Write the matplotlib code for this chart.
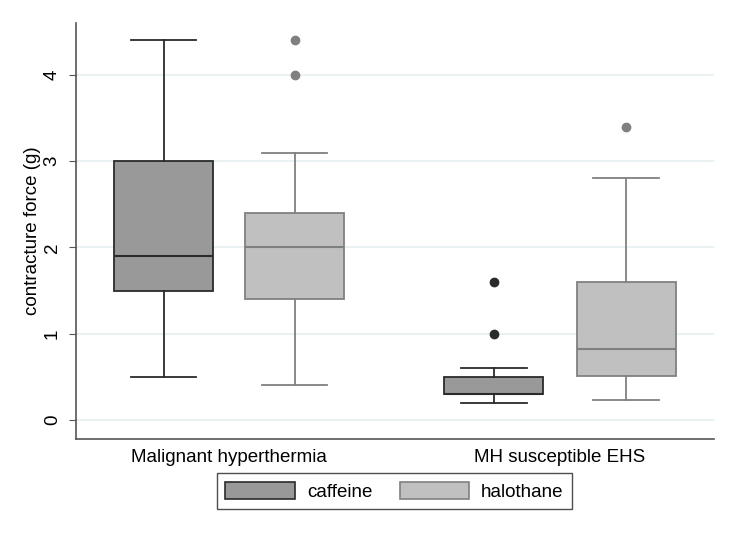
import matplotlib.pyplot as plt
from matplotlib.patches import Patch

plt.rcParams['font.family'] = ['Liberation Sans', 'DejaVu Sans']

groups = ['Malignant hyperthermia', 'MH susceptible EHS']
drugs = ['caffeine', 'halothane']

# box stats: (whislo, q1, med, q3, whishi, outliers)
caffeine = [
    (0.5, 1.5, 1.9, 3.0, 4.4, []),
    (0.2, 0.3, 0.3, 0.5, 0.6, [1.0, 1.6]),
]
halothane = [
    (0.4, 1.4, 2.0, 2.4, 3.1, [4.0, 4.4]),
    (0.23, 0.51, 0.82, 1.6, 2.8, [3.4]),
]

fill = {'caffeine': '#999999', 'halothane': '#c0c0c0'}
edge = {'caffeine': '#2b2b2b', 'halothane': '#808080'}

positions = {'caffeine': [0, 2.52], 'halothane': [1, 3.53]}


def to_stats(rows):
    return [dict(whislo=a, q1=b, med=c, q3=d, whishi=e, fliers=f) for a, b, c, d, e, f in rows]


fig = plt.figure(figsize=(7.36, 5.37), dpi=100)
ax = fig.add_axes([0.1033, 0.1825, 0.8667, 0.7745])

for name, rows in (('caffeine', caffeine), ('halothane', halothane)):
    ec = edge[name]
    ax.bxp(to_stats(rows), positions=positions[name], widths=0.755, capwidths=0.5,
           patch_artist=True, showfliers=True,
           boxprops=dict(facecolor=fill[name], edgecolor=ec, linewidth=1.3),
           medianprops=dict(color=ec, linewidth=1.5),
           whiskerprops=dict(color=ec, linewidth=1.3),
           capprops=dict(color=ec, linewidth=1.3),
           flierprops=dict(marker='o', markerfacecolor=ec, markeredgecolor=ec, markersize=6))

fs = 13.5
ax.set_xlim(-0.668, 4.2)
ax.set_ylim(-0.22, 4.6)
ax.set_yticks([0, 1, 2, 3, 4])
ax.set_yticklabels(['0', '1', '2', '3', '4'], rotation=90, va='center', fontsize=fs)
ax.set_xticks([0.5, 3.025])
ax.set_xticklabels(groups, fontsize=fs)
ax.tick_params(axis='x', length=0, pad=7)
ax.tick_params(axis='y', length=5, color='#555555', pad=6)
ax.set_ylabel('contracture force (g)', fontsize=fs, labelpad=2)
ax.yaxis.grid(True, color='#e6eff1', linewidth=1.2)
ax.set_axisbelow(True)
for s in ('top', 'right'):
    ax.spines[s].set_visible(False)
for s in ('left', 'bottom'):
    ax.spines[s].set_color('#555555')
    ax.spines[s].set_linewidth(1.2)

handles = [Patch(facecolor=fill[d], edgecolor=edge[d], linewidth=1.2) for d in drugs]
leg = fig.legend(handles, drugs, loc='center', bbox_to_anchor=(0.536, 0.085), ncol=2,
                 fontsize=fs, frameon=True, fancybox=False, handlelength=3.7, handleheight=1.05,
                 columnspacing=1.45, handletextpad=0.65, borderpad=0.45, borderaxespad=0)
leg.get_frame().set_edgecolor('#222222')
leg.get_frame().set_linewidth(1.0)

fig.savefig('out.png', dpi=100)
